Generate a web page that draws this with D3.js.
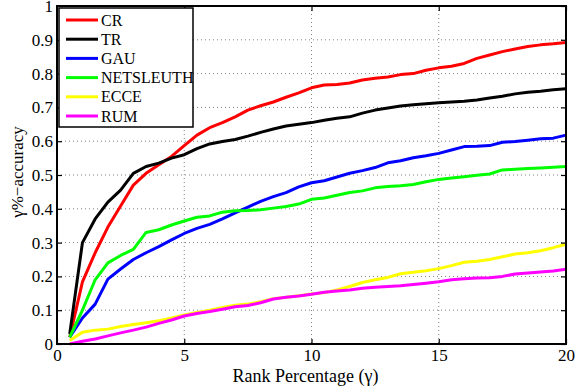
<!DOCTYPE html>
<html>
<head>
<meta charset="utf-8">
<script src="https://cdn.jsdelivr.net/npm/d3@7"></script>
<style>
  html, body { margin: 0; padding: 0; background: #fff; }
  svg { display: block; }
  text { font-family: "Liberation Serif", "Times New Roman", serif; fill: #000; }
</style>
</head>
<body>
<svg id="chart" width="578" height="391"></svg>
<script>
// Rank percentage (gamma) sampled every 0.5
const gammas = d3.range(1, 41).map(i => i * 0.5);

const seriesNames = ["CR", "TR", "GAU", "NETSLEUTH", "ECCE", "RUM"];
const seriesColors = ["#ff0000", "#000000", "#0000ff", "#00ff00", "#ffff00", "#ff00ff"];

const crValues = [0.02, 0.184, 0.27, 0.346, 0.408, 0.47, 0.505, 0.53, 0.555, 0.587, 0.618, 0.64, 0.655, 0.672, 0.692, 0.705, 0.716, 0.73, 0.743, 0.758, 0.766, 0.768, 0.772, 0.781, 0.786, 0.79, 0.797, 0.80, 0.81, 0.817, 0.822, 0.83, 0.845, 0.855, 0.865, 0.873, 0.88, 0.885, 0.888, 0.892];
const trValues = [0.03, 0.30, 0.37, 0.42, 0.455, 0.505, 0.525, 0.535, 0.55, 0.56, 0.578, 0.592, 0.599, 0.605, 0.615, 0.626, 0.636, 0.645, 0.65, 0.655, 0.662, 0.668, 0.672, 0.683, 0.692, 0.698, 0.704, 0.708, 0.711, 0.714, 0.716, 0.718, 0.722, 0.728, 0.733, 0.74, 0.745, 0.748, 0.752, 0.755];
const gauValues = [0.02, 0.077, 0.118, 0.192, 0.222, 0.25, 0.27, 0.288, 0.308, 0.327, 0.342, 0.354, 0.37, 0.388, 0.405, 0.422, 0.436, 0.448, 0.465, 0.477, 0.483, 0.494, 0.505, 0.513, 0.522, 0.536, 0.542, 0.551, 0.557, 0.564, 0.574, 0.584, 0.585, 0.587, 0.597, 0.599, 0.603, 0.607, 0.609, 0.618];
const netsleuthValues = [0.02, 0.10, 0.19, 0.24, 0.262, 0.28, 0.33, 0.338, 0.352, 0.364, 0.375, 0.379, 0.39, 0.394, 0.395, 0.397, 0.402, 0.407, 0.414, 0.428, 0.432, 0.44, 0.448, 0.453, 0.462, 0.466, 0.468, 0.472, 0.48, 0.487, 0.491, 0.495, 0.499, 0.503, 0.515, 0.517, 0.519, 0.521, 0.523, 0.525];
const ecceValues = [0.01, 0.035, 0.041, 0.044, 0.052, 0.058, 0.063, 0.069, 0.077, 0.086, 0.093, 0.10, 0.108, 0.115, 0.118, 0.125, 0.134, 0.138, 0.143, 0.148, 0.152, 0.16, 0.17, 0.182, 0.19, 0.197, 0.208, 0.212, 0.217, 0.223, 0.232, 0.242, 0.245, 0.25, 0.258, 0.266, 0.27, 0.276, 0.285, 0.295];
const rumValues = [0.0, 0.008, 0.015, 0.024, 0.033, 0.041, 0.05, 0.061, 0.071, 0.083, 0.09, 0.096, 0.103, 0.11, 0.114, 0.122, 0.133, 0.138, 0.142, 0.147, 0.153, 0.157, 0.16, 0.165, 0.168, 0.17, 0.172, 0.176, 0.18, 0.184, 0.19, 0.193, 0.195, 0.196, 0.2, 0.207, 0.21, 0.213, 0.216, 0.221];

const xTicks = [0, 5, 10, 15, 20];
const yTicks = [0, 0.1, 0.2, 0.3, 0.4, 0.5, 0.6, 0.7, 0.8, 0.9, 1];

const xTitle = "Rank Percentage (\u03b3)";
const yTitle = "\u03b3%\u2212accuracy";

const allValues = [crValues, trValues, gauValues, netsleuthValues, ecceValues, rumValues];

const svg = d3.select("#chart");
const plotL = 57, plotR = 566, plotT = 6, plotB = 344;
const serif = "'Liberation Serif', 'Times New Roman', serif";

const x = d3.scaleLinear().domain([0, 20]).range([plotL, plotR]);
const y = d3.scaleLinear().domain([0, 1]).range([plotB, plotT]);

// dotted grid
const grid = svg.append("g");
grid.selectAll("line.gx").data(xTicks.slice(1, -1)).join("line")
  .attr("class", "gx")
  .attr("x1", d => x(d)).attr("x2", d => x(d))
  .attr("y1", plotT).attr("y2", plotB)
  .attr("stroke", "#808080").attr("stroke-width", 1)
  .attr("stroke-dasharray", "1,3");
grid.selectAll("line.gy").data(yTicks.slice(1, -1)).join("line")
  .attr("class", "gy")
  .attr("x1", plotL).attr("x2", plotR)
  .attr("y1", d => y(d)).attr("y2", d => y(d))
  .attr("stroke", "#808080").attr("stroke-width", 1)
  .attr("stroke-dasharray", "1,3");

// series lines
const line = d3.line().x((d, i) => x(gammas[i])).y(d => y(d));
svg.append("g").selectAll("path").data(allValues).join("path")
  .attr("d", d => line(d))
  .attr("fill", "none")
  .attr("stroke", (d, i) => seriesColors[i])
  .attr("stroke-width", 3)
  .attr("stroke-linejoin", "round");

// axes with inward ticks on all four sides
const fmtY = d => (d === 0 || d === 1) ? String(d) : d.toFixed(1);
const axB = svg.append("g").attr("transform", `translate(0,${plotB})`)
  .call(d3.axisBottom(x).tickValues(xTicks).tickSizeInner(-5).tickSizeOuter(0).tickPadding(5));
const axL = svg.append("g").attr("transform", `translate(${plotL},0)`)
  .call(d3.axisLeft(y).tickValues(yTicks).tickFormat(fmtY).tickSizeInner(-5).tickSizeOuter(0).tickPadding(4));
const axT = svg.append("g").attr("transform", `translate(0,${plotT})`)
  .call(d3.axisTop(x).tickValues(xTicks).tickSizeInner(-5).tickSizeOuter(0).tickFormat(""));
const axR = svg.append("g").attr("transform", `translate(${plotR},0)`)
  .call(d3.axisRight(y).tickValues(yTicks).tickSizeInner(-5).tickSizeOuter(0).tickFormat(""));

[axB, axL, axT, axR].forEach(a => {
  a.attr("font-family", null);
  a.select(".domain").remove();
  a.selectAll(".tick line").attr("stroke", "#000").attr("stroke-width", 1.2);
  a.selectAll(".tick text").style("font-family", serif).style("font-size", "17px").attr("fill", "#000");
});

// frame
svg.append("rect")
  .attr("x", plotL).attr("y", plotT)
  .attr("width", plotR - plotL).attr("height", plotB - plotT)
  .attr("fill", "none").attr("stroke", "#000").attr("stroke-width", 2);

// axis titles
svg.append("text")
  .attr("x", (plotL + plotR) / 2 - 6).attr("y", 382)
  .attr("text-anchor", "middle")
  .style("font-family", serif)
  .style("font-size", "18px")
  .text(xTitle);
svg.append("text")
  .attr("transform", "translate(23,172) rotate(-90)")
  .attr("text-anchor", "middle")
  .style("font-family", serif)
  .style("font-size", "17px")
  .text(yTitle);

// legend
const lg = svg.append("g");
lg.append("rect")
  .attr("x", 59).attr("y", 8).attr("width", 134).attr("height", 119)
  .attr("fill", "#fff").attr("stroke", "#000").attr("stroke-width", 1.5);
const rows = lg.selectAll("g.row").data(seriesNames).join("g")
  .attr("class", "row")
  .attr("transform", (d, i) => `translate(0,${20 + i * 19.2})`);
rows.append("line")
  .attr("x1", 66).attr("x2", 98).attr("y1", 0).attr("y2", 0)
  .attr("stroke", (d, i) => seriesColors[i]).attr("stroke-width", 3);
rows.append("text")
  .attr("x", 101).attr("y", 5.5)
  .style("font-family", serif)
  .style("font-size", "16px")
  .text(d => d);
</script>
</body>
</html>
